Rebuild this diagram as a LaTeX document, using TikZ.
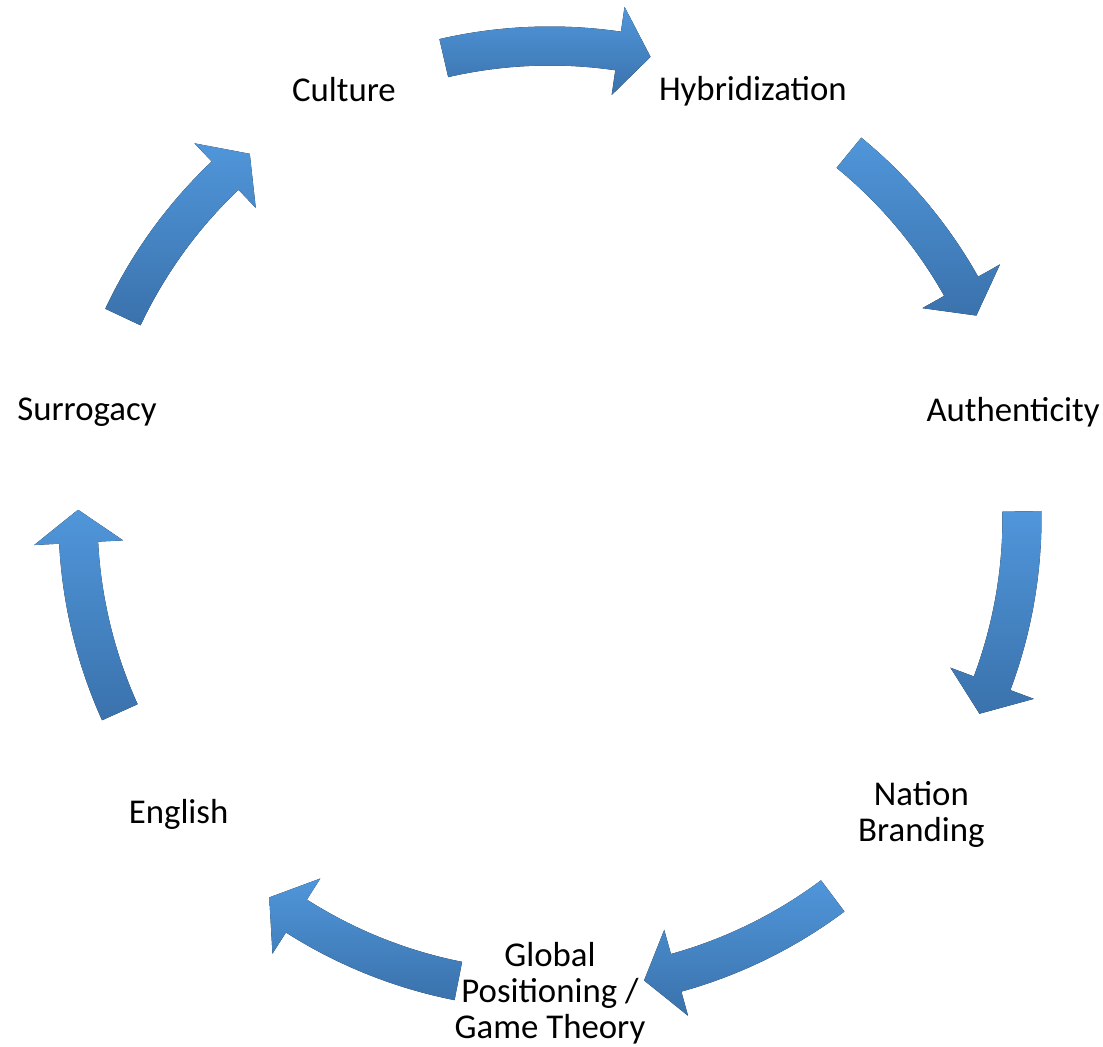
\documentclass[tikz,border=0pt]{standalone}
\usepackage{fontspec}
\setmainfont{Carlito}
\usepackage{tikz}

\definecolor{arrowtop}{RGB}{80,150,218}
\definecolor{arrowbot}{RGB}{58,114,172}

% curved block arrow on the ring, #1 = angle of its middle
\newcommand{\cyclearrow}[1]{%
  \fill[ringarrow] ({#1+13}:491.5) arc[start angle={#1+13}, end angle={#1-8.3}, radius=491.5]
     -- ({#1-8.3}:516.5) -- ({#1-12.3}:472) -- ({#1-8.3}:427.5)
     -- ({#1-8.3}:452.5) arc[start angle={#1-8.3}, end angle={#1+13}, radius=452.5] -- cycle;}

\begin{document}
\begin{tikzpicture}[x=0.5pt,y=0.5pt,
      stagelabel/.style ={align=center, inner sep=0pt, font=\fontsize{17.4}{17.9}\selectfont},
      ringarrow/.style ={top color=arrowtop, bottom color=arrowbot}]
   \useasboundingbox (-550,-529) rectangle (553,518);
   \cyclearrow{90}
   \cyclearrow{37.7}
   \cyclearrow{-12.2}
   \cyclearrow{-66.2}
   \cyclearrow{-114.2}
   \cyclearrow{-168.7}
   \cyclearrow{141.8}
   \node[stagelabel] (culture)   at (115.71:475) {Culture};
   \node[stagelabel] (hybrid)    at (64.6:473)  {Hybridization};
   \node[stagelabel] (authentic) at (12.86:475)  {Authenticity};
   \node[stagelabel] (nation)    at (-38.57:475) {Nation\\Branding};
   \node[stagelabel] (global)    at (-90:475)    {Global\\Positioning /\\Game Theory};
   \node[stagelabel] (english)   at (-141.43:475) {English};
   \node[stagelabel] (surrogacy) at (167.14:475) {Surrogacy};
\end{tikzpicture}
\end{document}
